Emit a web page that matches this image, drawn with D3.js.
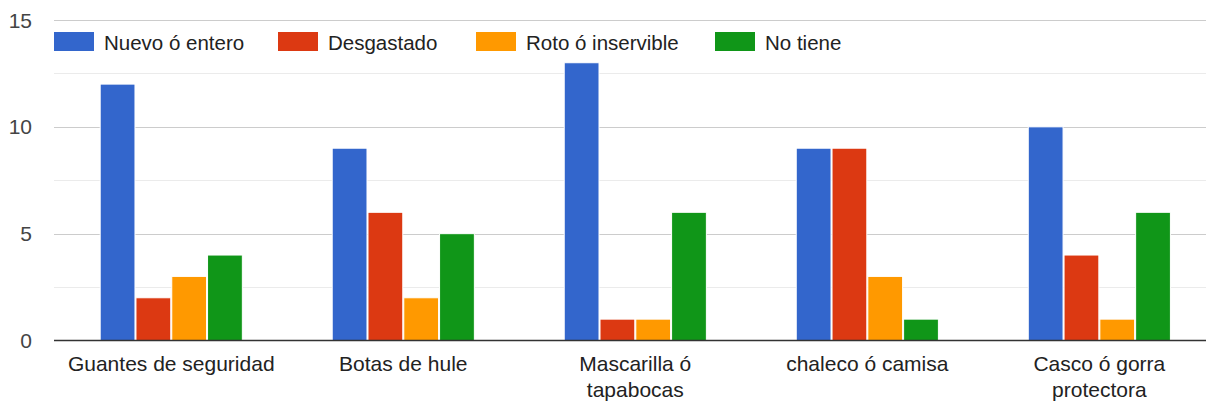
<!DOCTYPE html>
<html>
<head>
  <meta charset="UTF-8">
  <style>
    body { margin: 0; background: #fff; }
    svg { font-family: Arial, "Liberation Sans", sans-serif; }
  </style>
</head>
<body>
  <svg id="chart" width="1206" height="402"></svg>
  <script src="https://d3js.org/d3.v7.min.js"></script>
  <script>
    // data
    var categories = ["Guantes de seguridad", "Botas de hule", "Mascarilla ó tapabocas", "chaleco ó camisa", "Casco ó gorra protectora"];
    var labelLines = [["Guantes de seguridad"], ["Botas de hule"], ["Mascarilla ó", "tapabocas"], ["chaleco ó camisa"], ["Casco ó gorra", "protectora"]];
    var seriesNames = ["Nuevo ó entero", "Desgastado", "Roto ó inservible", "No tiene"];
    var nuevo = [12, 9, 13, 9, 10];
    var desgastado = [2, 6, 1, 9, 4];
    var roto = [3, 2, 1, 3, 1];
    var noTiene = [4, 5, 6, 1, 6];
    var majorTicks = [0, 5, 10, 15];
    var minorTicks = [2.5, 7.5, 12.5];
    var colors = ["#3366cc", "#dc3912", "#ff9900", "#109618"];

    var series = [nuevo, desgastado, roto, noTiene];

    var svg = d3.select("#chart");
    var left = 54, right = 1206;

    var x = d3.scaleBand().domain(categories).range([55.6, 1215]).paddingInner(0.383).paddingOuter(0.19);
    var x1 = d3.scaleBand().domain(d3.range(4)).range([0, x.bandwidth()]).padding(0);
    var y = d3.scaleLinear().domain([0, 15]).range([340.5, 20]);

    // gridlines
    svg.append("g").selectAll("line").data(minorTicks).enter().append("line")
      .attr("x1", left).attr("x2", right)
      .attr("y1", d => Math.round(y(d)) + 0.5).attr("y2", d => Math.round(y(d)) + 0.5)
      .attr("stroke", "#ebebeb");
    svg.append("g").selectAll("line").data(majorTicks.slice(1)).enter().append("line")
      .attr("x1", left).attr("x2", right)
      .attr("y1", d => Math.round(y(d)) + 0.5).attr("y2", d => Math.round(y(d)) + 0.5)
      .attr("stroke", "#cccccc");

    // y labels
    svg.append("g").selectAll("text").data(majorTicks).enter().append("text")
      .attr("x", 32).attr("y", d => y(d) + 7.5)
      .attr("text-anchor", "end")
      .attr("font-size", 21).attr("fill", "#444")
      .text(d => d);

    // bars
    var groups = svg.append("g").selectAll("g").data(categories).enter().append("g")
      .attr("transform", d => "translate(" + x(d) + ",0)");
    groups.selectAll("rect").data((d, i) => series.map((s, k) => ({k: k, v: s[i]}))).enter().append("rect")
      .attr("x", d => x1(d.k) + 0.5)
      .attr("width", x1.bandwidth() - 1)
      .attr("y", d => y(d.v))
      .attr("height", d => y(0) - y(d.v))
      .attr("fill", d => colors[d.k])
      .attr("stroke", "#fff").attr("stroke-width", 1);

    // baseline
    svg.append("line").attr("x1", left).attr("x2", right)
      .attr("y1", 340.5).attr("y2", 340.5)
      .attr("stroke", "#333").attr("stroke-width", 1.5);

    // x labels
    svg.append("g").selectAll("text").data(categories).enter().append("text")
      .attr("x", d => x(d) + x.bandwidth() / 2)
      .attr("y", 371)
      .attr("text-anchor", "middle")
      .attr("font-size", 21).attr("fill", "#222")
      .each(function(d, i) {
        var t = d3.select(this);
        labelLines[i].forEach(function(l, j) {
          t.append("tspan").attr("x", x(d) + x.bandwidth() / 2).attr("dy", j ? 26 : 0).text(l);
        });
      });

    // legend
    var legendX = [54, 278, 476, 715];
    var lg = svg.append("g").selectAll("g").data(seriesNames).enter().append("g")
      .attr("transform", (d, i) => "translate(" + legendX[i] + ",32)");
    lg.append("rect").attr("width", 40).attr("height", 19).attr("fill", (d, i) => colors[i]);
    lg.append("text").attr("x", 50).attr("y", 18)
      .attr("font-size", 20.5).attr("fill", "#222").text(d => d);
  </script>
</body>
</html>
